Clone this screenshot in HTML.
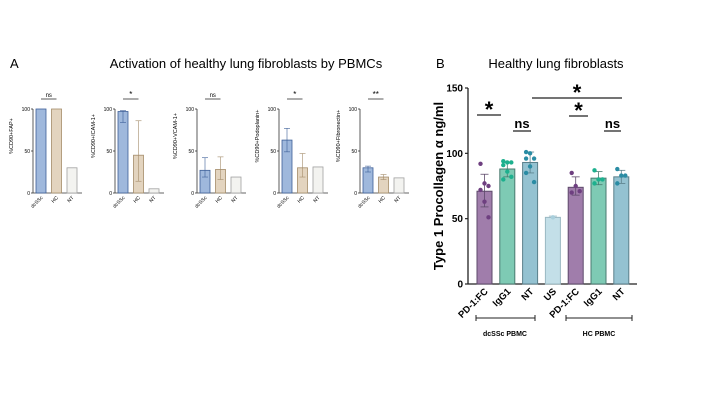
<!DOCTYPE html>
<html><head><meta charset="utf-8"><style>
body{margin:0;background:#fff;width:720px;height:405px;overflow:hidden;font-family:"Liberation Sans",sans-serif}
svg{display:block}
</style></head><body>
<svg id="fig" width="720" height="405" viewBox="0 0 720 405" xmlns="http://www.w3.org/2000/svg">
<text x="10" y="68" font-size="13">A</text>
<text x="246" y="68" font-size="13" text-anchor="middle">Activation of healthy lung fibroblasts by PBMCs</text>
<text x="436" y="68" font-size="13">B</text>
<text x="556" y="68" font-size="13" text-anchor="middle">Healthy lung fibroblasts</text>
<g id="pa"></g><g id="pb"></g>
</svg>
<script>
// Panel A data
const aCategories = ["dcSSc","HC","NT"];
const aYLabels = ["%CD90+FAP+","%CD90+ICAM-1+","%CD90+VCAM-1+","%CD90+Podoplanin+","%CD90+Fibronectin+"];
const aValues = [[100,100,30],[97,45,5],[27,28,19],[63,30,31],[30,19,18]];
const aErrLow = [[100,100,30],[84,14,5],[19,16,19],[49,19,31],[25,16,18]];
const aErrHigh = [[100,100,30],[98,86,5],[42,43,19],[77,47,31],[32,22,18]];
const aSig = ["ns","*","ns","*","**"];
const aTicks = [0,50,100];
// Panel B data
const bCategories = ["PD-1:FC","IgG1","NT","US","PD-1:FC","IgG1","NT"];
const bValues = [71,88,93,51,74,81,82];
const bErrLow = [59,82,85,51,68,76,77];
const bErrHigh = [84,93,101,52,82,86,87];
const bPoints = [[92,77,75,72,63,51],[94,93,93,91,86,82,80],[101,100,96,96,90,78,85],[51],[85,75,71,70],[87,80,80,77],[88,83,83,77]];
const bTicks = [0,50,100,150];

const NS="http://www.w3.org/2000/svg";
function mk(p,tag,at,txt){const e=document.createElementNS(NS,tag);for(const k in at)e.setAttribute(k,at[k]);if(txt!=null)e.textContent=txt;p.appendChild(e);return e;}

const pa=document.getElementById('pa');
const axX=[33,115,197,279,360];
const fills=["#9fb8dc","#e3d4bf","#f3f3f0"], strokes=["#3d5f98","#a48c6a","#a0a0a0"];
aValues.forEach((vals,pi)=>{
  const x0=axX[pi], yTop=109, yBot=193;
  const ys=v=>yBot-(v/100)*(yBot-yTop);
  const xs=i=>x0+3+i*15.5;
  const g=mk(pa,'g',{});
  
  
  const ax=mk(g,'line',{x1:x0,y1:yTop,x2:x0,y2:yBot,stroke:'#333','stroke-width':0.8});
  
  mk(g,'line',{x1:x0,y1:yBot,x2:x0+49,y2:yBot,stroke:'#333','stroke-width':0.8});
  aTicks.forEach(t=>{
    mk(g,'line',{x1:x0-2,y1:ys(t),x2:x0,y2:ys(t),stroke:'#333','stroke-width':0.8});
    const tl=mk(g,'text',{x:x0-3,y:ys(t)+2,'font-size':5,'text-anchor':'end'},t);
    
  });
  const yl=mk(g,'text',{x:0,y:0,'font-size':5.5,'text-anchor':'middle',transform:`translate(${x0-20},${(yTop+yBot)/2-15}) rotate(-90)`},aYLabels[pi]);
  
  vals.forEach((v,i)=>{
    const b=mk(g,'rect',{x:xs(i),y:ys(v),width:10,height:yBot-ys(v),fill:fills[i],stroke:strokes[i],'stroke-width':0.8});
    
    if(aErrHigh[pi][i]!==aErrLow[pi][i]){
      const cx=xs(i)+5;
      mk(g,'line',{x1:cx,y1:ys(aErrLow[pi][i]),x2:cx,y2:ys(aErrHigh[pi][i]),stroke:strokes[i],'stroke-width':0.6});
      mk(g,'line',{x1:cx-3,y1:ys(aErrHigh[pi][i]),x2:cx+3,y2:ys(aErrHigh[pi][i]),stroke:strokes[i],'stroke-width':0.6});
      mk(g,'line',{x1:cx-3,y1:ys(aErrLow[pi][i]),x2:cx+3,y2:ys(aErrLow[pi][i]),stroke:strokes[i],'stroke-width':0.6});
    }
    const xl=mk(g,'text',{x:0,y:0,'font-size':5,'text-anchor':'end',transform:`translate(${xs(i)+7},${yBot+5}) rotate(-45)`},aCategories[i]);
    
  });
  mk(g,'line',{x1:xs(0)+5,y1:99,x2:xs(1)+5,y2:99,stroke:'#333','stroke-width':0.8});
  const st=mk(g,'text',{x:xs(0)+12.75,y:97,'font-size':aSig[pi]=='ns'?6:8,'text-anchor':'middle'},aSig[pi]);
  
});

// Panel B
const pb=document.getElementById('pb');
const bx0=468,bTop=88,bBot=284;
const by=v=>bBot-(v/150)*(bBot-bTop);
const bx=i=>477+i*22.8;
const bFill=["#a07dab","#7ecab4","#94c2d1","#c3dfe8","#a07dab","#7ecab4","#94c2d1"];
const bStroke=["#5e4a6b","#4a7a70","#5a7f8a","#9ab8c2","#5e4a6b","#4a7a70","#5a7f8a"];
const bDot=["#6e3f80","#1db08e","#2a8ca4","#a9cfdc","#6e3f80","#1db08e","#2a8ca4"];
mk(pb,'line',{x1:bx0,y1:bTop,x2:bx0,y2:bBot,stroke:'#222','stroke-width':1.3});
mk(pb,'line',{x1:bx0,y1:bBot,x2:637,y2:bBot,stroke:'#222','stroke-width':1.3});
bTicks.forEach(t=>{
  mk(pb,'line',{x1:bx0-3,y1:by(t),x2:bx0,y2:by(t),stroke:'#222','stroke-width':1.2});
  const tl=mk(pb,'text',{x:bx0-5,y:by(t)+3.5,'font-size':10,'font-weight':'bold','text-anchor':'end'},t);
  
});
const byl=mk(pb,'text',{x:0,y:0,'font-size':13,'font-weight':'bold','text-anchor':'middle',transform:`translate(${443},${186}) rotate(-90)`},'Type 1 Procollagen α ng/ml');

bValues.forEach((v,i)=>{
  const b=mk(pb,'rect',{x:bx(i),y:by(v),width:15,height:bBot-by(v),fill:bFill[i],stroke:bStroke[i],'stroke-width':1});
  
  
  const cx=bx(i)+7.5;
  mk(pb,'line',{x1:cx,y1:by(bErrLow[i]),x2:cx,y2:by(bErrHigh[i]),stroke:bStroke[i],'stroke-width':0.8});
  mk(pb,'line',{x1:cx-4,y1:by(bErrHigh[i]),x2:cx+4,y2:by(bErrHigh[i]),stroke:bStroke[i],'stroke-width':0.8});
  mk(pb,'line',{x1:cx-4,y1:by(bErrLow[i]),x2:cx+4,y2:by(bErrLow[i]),stroke:bStroke[i],'stroke-width':0.8});
  bPoints[i].forEach((p,k)=>{
    const n=bPoints[i].length;
    const d=mk(pb,'circle',{cx:n==1?cx:cx+((k%3)-1)*4,cy:by(p),r:2.2,fill:bDot[i]});
    
  });
  const xl=mk(pb,'text',{x:0,y:0,'font-size':9.5,'font-weight':'bold','text-anchor':'end',transform:`translate(${cx+4},${bBot+8}) rotate(-45)`},bCategories[i]);
  
});
// group brackets
[[476,535,'dcSSc PBMC',505],[566,632,'HC PBMC',599]].forEach(([a,b,l,c])=>{
  mk(pb,'line',{x1:a,y1:318,x2:b,y2:318,stroke:'#222','stroke-width':1});
  mk(pb,'line',{x1:a,y1:315,x2:a,y2:321,stroke:'#222','stroke-width':1});
  mk(pb,'line',{x1:b,y1:315,x2:b,y2:321,stroke:'#222','stroke-width':1});
  const t=mk(pb,'text',{x:c,y:336,'font-size':7,'font-weight':'bold','text-anchor':'middle'},l);
  
});
// significance
[[477,501,115,'*'],[513,531,131,'ns'],[532,622,98,'*'],[569,588,116,'*'],[604,621,131,'ns']].forEach(([a,b,y,s])=>{
  mk(pb,'line',{x1:a,y1:y,x2:b,y2:y,stroke:'#222','stroke-width':1.3});
  const t=mk(pb,'text',{x:(a+b)/2,y:s=='*'?y+2:y-3,'font-size':s=='*'?22:13,'font-weight':'bold','text-anchor':'middle'},s);
  
});
</script>
</body></html>
